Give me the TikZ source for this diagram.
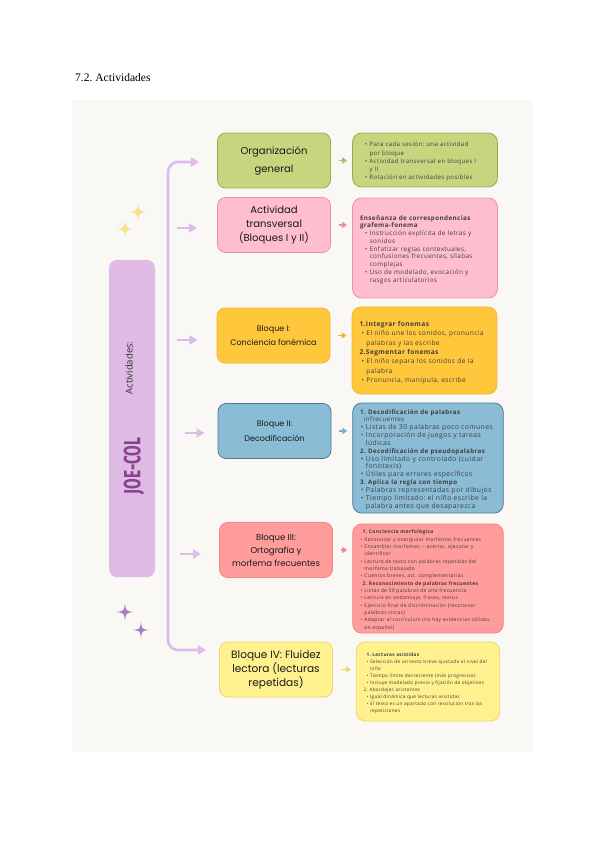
\documentclass[tikz,border=0pt]{standalone}
\usepackage{fontspec}
\usepackage{tikz}
\usetikzlibrary{arrows.meta}
\setmainfont{Liberation Serif}
\newfontfamily\handfont{Poppins}
\newfontfamily\bodyfont{Open Sans}[LetterSpace=6]
\newfontfamily\sidefont{Open Sans}
\newfontfamily\joefont{Fira Sans}

\definecolor{panel}{HTML}{FAF8F5}
\definecolor{lilac}{HTML}{DFBBEA}
\definecolor{lilacbox}{HTML}{DEBAE4}
\definecolor{joe}{HTML}{86408F}
\definecolor{greenF}{HTML}{C6D57E}
\definecolor{greenB}{HTML}{97AB50}
\definecolor{pinkF}{HTML}{FFBDD0}
\definecolor{pinkB}{HTML}{E890AA}
\definecolor{orangeF}{HTML}{FFC83C}
\definecolor{orangeB}{HTML}{F2B52C}
\definecolor{blueF}{HTML}{8BBCD6}
\definecolor{blueB}{HTML}{4E7A91}
\definecolor{redF}{HTML}{FF9C9C}
\definecolor{redB}{HTML}{F28484}
\definecolor{yellowF}{HTML}{FFF18D}
\definecolor{yellowB}{HTML}{EBD66A}
\definecolor{starY}{HTML}{F5E38C}
\definecolor{starP}{HTML}{A97CC1}

% punkt, fortsettelse og overskrift i listene
\newcommand{\bitem}[2][0.3em]{\par\noindent\hangindent=\dimexpr#1+0.75em\relax\hangafter=1\hspace*{#1}\makebox[0.75em][l]{\textbullet}\mbox{#2}}
\newcommand{\bnext}[1]{\newline\mbox{#1}}
\newcommand{\bhead}[2][]{\par\noindent{#1\textbf{\mbox{#2}}}}
% stjerne: x, y, r, farge
\newcommand{\sparkle}[4]{\fill[#4] (#1,#2-#3) .. controls (#1+0.12*#3,#2-0.12*#3) .. (#1+#3,#2) .. controls (#1+0.12*#3,#2+0.12*#3) .. (#1,#2+#3) .. controls (#1-0.12*#3,#2+0.12*#3) .. (#1-#3,#2) .. controls (#1-0.12*#3,#2-0.12*#3) .. cycle;}

\begin{document}
\frenchspacing
\begin{tikzpicture}[x=0.035cm, y=-0.035cm, every node/.style={inner sep=0pt},
  mid/.style={rounded corners=8pt, draw, line width=0.8pt, minimum width=3.955cm, minimum height=1.925cm, align=center, text=black!90},
  info/.style={rounded corners=9pt, draw, line width=0.8pt, inner xsep=0.26cm, text width=4.55cm, text=black!75},
  trunk/.style={line width=2.6pt, draw=lilac, rounded corners=10pt, {Triangle[length=8pt,width=9pt]}-{Triangle[length=8pt,width=9pt]}},
  feed/.style={line width=2.6pt, draw=lilac, -{Triangle[length=8pt,width=9pt]}},
  link/.style={line width=1.6pt, -{Triangle[length=5pt,width=6pt]}, shorten <=8pt, shorten >=5pt}]
  % Ramme
  \fill[white] (0,0) rectangle (600,848);
  \useasboundingbox (0,0) rectangle (600,848);
  \node[anchor=base west, font=\fontsize{11.5}{14}\selectfont] (title) at (75,82) {7.2. Actividades};
  \fill[panel] (72,100) rectangle (533,752);
  % Stjerner
  \sparkle{138}{212}{9}{starY}
  \sparkle{125}{229}{8.5}{starY}
  \sparkle{125}{612}{8.5}{starP}
  \sparkle{141}{630}{8}{starP}
  % Sideboks
  \node[rounded corners=8pt, fill=lilacbox, minimum width=1.61cm, minimum height=11.1cm] (side) at (132,418.5) {};
  \node[rotate=90, font=\sidefont\fontsize{9.5}{12}\selectfont, text=black!80] (act) at (129,368) {Actividades:};
  \node[rotate=90, font=\joefont\bfseries\fontsize{18}{20}\selectfont, text=joe] (joecol) at (134,466) {\scalebox{0.85}[1.3]{JOE-COL}};
  % Midtbokser
  \node[mid, fill=greenF, draw=greenB, font=\handfont\fontsize{10}{18}\selectfont] (org) at (274,160.5) {Organización\\general};
  \node[mid, fill=pinkF, draw=pinkB, font=\handfont\fontsize{10}{14}\selectfont] (trans) at (274,225) {Actividad\\transversal\\(Bloques I y II)};
  \node[mid, fill=orangeF, draw=orangeB, font=\handfont\fontsize{8}{14}\selectfont] (bl1) at (273.5,335.5) {Bloque I:\\Conciencia fonémica};
  \node[mid, fill=blueF, draw=blueB, font=\handfont\fontsize{8}{15}\selectfont] (bl2) at (274.5,431) {Bloque II:\\Decodificación};
  \node[mid, fill=redF, draw=redB, font=\handfont\fontsize{8.5}{13}\selectfont] (bl3) at (276,550) {Bloque III:\\Ortografía y\\morfema frecuentes};
  \node[mid, fill=yellowF, draw=yellowB, font=\handfont\fontsize{10.5}{14}\selectfont] (bl4) at (276,669.5) {Bloque IV: Fluidez\\lectora (lecturas\\repetidas)};
  % Høyre bokser
  \node[info, fill=greenF, draw=greenB, minimum height=1.89cm, font=\bodyfont\fontsize{6.1}{8.2}\selectfont\raggedright] (orgR) at (425,160) {%
    \bitem[0.8em]{Para cada sesión: una actividad}\bnext{por bloque}
    \bitem[0.8em]{Actividad transversal en bloques I}\bnext{y II}
    \bitem[0.8em]{Rotación en actividades posibles}\par};
  \node[info, fill=pinkF, draw=pinkB, minimum height=3.5cm, font=\bodyfont\fontsize{6.3}{7.7}\selectfont\raggedright] (transR) at (425,248) {%
    \bhead{Enseñanza de correspondencias}\bnext{\textbf{grafema-fonema}}
    \bitem[0.8em]{Instrucción explícita de letras y}\bnext{sonidos}
    \bitem[0.8em]{Enfatizar reglas contextuales,}\bnext{confusiones frecuentes, sílabas}\bnext{complejas}
    \bitem[0.8em]{Uso de modelado, evocación y}\bnext{rasgos articulatorios}\par};
  \node[info, fill=orangeF, draw=orangeB, minimum height=3.05cm, font=\bodyfont\fontsize{6.6}{9.3}\selectfont\raggedright] (bl1R) at (424.5,350.5) {%
    \bhead{1.Integrar fonemas}
    \bitem{El niño une los sonidos, pronuncia}\bnext{palabras y las escribe}
    \bhead{2.Segmentar fonemas}
    \bitem{El niño separa los sonidos de la}\bnext{palabra}
    \bitem{Pronuncia, manipula, escribe}\par};
  \node[info, fill=blueF, draw=blueB, text width=4.75cm, minimum height=3.85cm, font=\bodyfont\fontsize{6.8}{7.8}\selectfont\raggedright] (bl2R) at (428,458) {%
    \bhead[\fontsize{6.2}{7.8}\selectfont]{1. Decodificación de palabras}\bnext{\fontsize{6.2}{7.8}\selectfont\hspace*{0.6em}infrecuentes}
    \bitem[0.1em]{Listas de 30 palabras poco comunes}
    \bitem[0.1em]{Incorporación de juegos y tareas}\bnext{lúdicas}
    \bhead[\fontsize{6.2}{7.8}\selectfont]{2. Decodificación de pseudopalabras}
    \bitem[0.1em]{Uso limitado y controlado (cuidar}\bnext{fonotaxis)}
    \bitem[0.1em]{Útiles para errores específicos}
    \bhead[\fontsize{6.2}{7.8}\selectfont]{3. Aplica la regla con tiempo}
    \bitem[0.1em]{Palabras representadas por dibujos}
    \bitem[0.1em]{Tiempo limitado: el niño escribe la}\bnext{palabra antes que desaparezca}\par};
  \node[info, fill=redF, draw=redB, text width=4.75cm, minimum height=3.82cm, font=\bodyfont\fontsize{5}{7.3}\selectfont\raggedright] (bl3R) at (428,578.5) {%
    \bhead{\hspace*{0.5em}1. Conciencia morfológica}
    \bitem[0.1em]{Reconocer y manipular morfemas frecuentes}
    \bitem[0.1em]{Ensamblar morfemas -- acertar, ejecutar y}\bnext{identificar}
    \bitem[0.1em]{Lectura de texto con palabras repetidas del}\bnext{morfema trabajado}
    \bitem[0.1em]{Cuentos breves, act. complementarias}
    \bhead{\hspace*{0.5em}2. Reconocimiento de palabras frecuentes}
    \bitem[0.1em]{Listas de 30 palabras de alta frecuencia}
    \bitem[0.1em]{Lectura en andamiaje, frases, textos}
    \bitem[0.1em]{Ejercicio final de discriminación (reconocer}\bnext{palabras vistas)}
    \bitem[0.1em]{Adaptar al currículum (no hay evidencias sólidas}\bnext{en español)}\par};
  \node[info, fill=yellowF, draw=yellowB, text width=4.5cm, minimum height=2.77cm, font=\bodyfont\fontsize{4.7}{7}\selectfont\raggedright] (bl4R) at (428,681.5) {%
    \bhead{\hspace*{0.6em}1. Lecturas asistidas}
    \bitem[0.6em]{Selección de un texto breve ajustado al nivel del}\bnext{niño}
    \bitem[0.6em]{Tiempo límite decreciente (más progresivo)}
    \bitem[0.6em]{Incluye modelado previo y fijación de objetivos}
    \par\noindent 2. Abordajes asistentes
    \bitem[0.6em]{Igual dinámica que lecturas asistidas}
    \bitem[0.6em]{El texto es un apartado con resolución tras las}\bnext{repeticiones}\par};
  % Stamme og piler
  \coordinate (tipT) at (199,162);
  \coordinate (tipB) at (206,650);
  \draw[trunk] (tipT) -| (168,400) |- (tipB);
  \coordinate (s2) at (177,228);
  \coordinate (s3) at (177,340);
  \coordinate (s4) at (185,433);
  \coordinate (s5) at (180,554);
  \draw[feed, shorten >=20pt] (s2) -- (trans.west |- s2);
  \draw[feed, shorten >=19pt] (s3) -- (bl1.west |- s3);
  \draw[feed, shorten >=13pt] (s4) -- (bl2.west |- s4);
  \draw[feed, shorten >=18pt] (s5) -- (bl3.west |- s5);
  \draw[link, draw=greenB!80] (org.east) -- (orgR.west |- org.east);
  \draw[link, draw=pinkB] (trans.east) -- (transR.west |- trans.east);
  \draw[link, draw=orangeB] (bl1.east) -- (bl1R.west |- bl1.east);
  \draw[link, draw=blueF!80!blueB] (bl2.east) -- (bl2R.west |- bl2.east);
  \draw[link, draw=redB] (bl3.east) -- (bl3R.west |- bl3.east);
  \draw[link, draw=yellowB] (bl4.east) -- (bl4R.west |- bl4.east);
\end{tikzpicture}
\end{document}
